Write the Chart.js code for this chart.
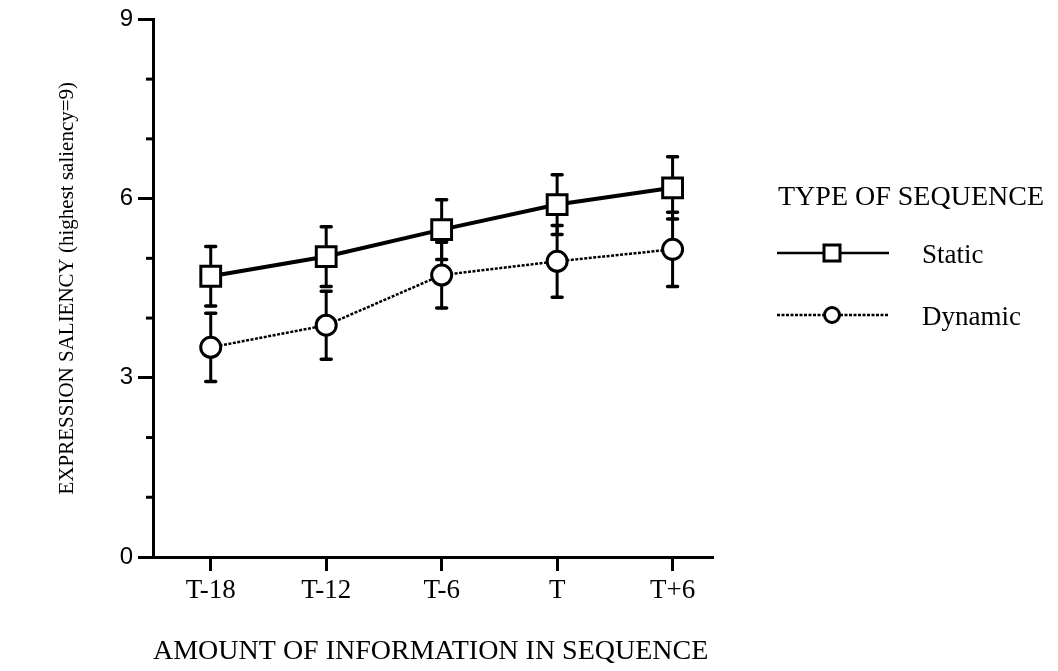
<!DOCTYPE html>
<html>
<head>
<meta charset="utf-8">
<script src="https://cdn.jsdelivr.net/npm/chart.js@4.4.1/dist/chart.umd.min.js"></script>
<style>
  html, body { margin: 0; padding: 0; background: #fff; }
  #wrap { width: 1058px; height: 671px; position: relative; }
</style>
</head>
<body>
<div id="wrap"><canvas id="c" width="1058" height="671"></canvas></div>
<script>
// Saliency ratings by amount of information shown in the sequence
const categories   = ['T-18', 'T-12', 'T-6', 'T', 'T+6'];
const staticMeans  = [4.70, 5.03, 5.48, 5.90, 6.18];
const staticErr    = [0.50, 0.50, 0.50, 0.50, 0.52];
const dynamicMeans = [3.51, 3.88, 4.72, 4.95, 5.15];
const dynamicErr   = [0.57, 0.57, 0.55, 0.60, 0.62];
const yMajorTicks  = [0, 3, 6, 9];
const yMinorTicks  = [1, 2, 4, 5, 7, 8];
const seriesNames  = ['Static', 'Dynamic'];
const legendTitle  = 'TYPE OF SEQUENCE';
const xTitle = 'AMOUNT OF INFORMATION IN SEQUENCE';
const yTitle = 'EXPRESSION SALIENCY (highest saliency=9)';

const SERIF = '"Liberation Serif", "Times New Roman", serif';
const SANS = '"Liberation Sans", Arial, sans-serif';
const errors = [staticErr, dynamicErr];

// Vertical error bars with caps, drawn beneath the markers
const errorBarPlugin = {
  id: 'errorBars',
  beforeDatasetsDraw(chart) {
    const ctx = chart.ctx;
    const y = chart.scales.y;
    ctx.save();
    ctx.strokeStyle = '#000';
    ctx.lineCap = 'round';
    chart.data.datasets.forEach((ds, i) => {
      const meta = chart.getDatasetMeta(i);
      meta.data.forEach((pt, j) => {
        const v = ds.data[j].y;
        const e = errors[i][j];
        const top = y.getPixelForValue(v + e);
        const bot = y.getPixelForValue(v - e);
        ctx.lineWidth = 3;
        ctx.beginPath();
        ctx.moveTo(pt.x, top);
        ctx.lineTo(pt.x, bot);
        ctx.stroke();
        ctx.lineWidth = 3.5;
        ctx.beginPath();
        ctx.moveTo(pt.x - 5, top); ctx.lineTo(pt.x + 5, top);
        ctx.moveTo(pt.x - 5, bot); ctx.lineTo(pt.x + 5, bot);
        ctx.stroke();
      });
    });
    ctx.restore();
  }
};

// Short minor ticks on the value axis
const minorTickPlugin = {
  id: 'minorTicks',
  afterDraw(chart) {
    const ctx = chart.ctx;
    const y = chart.scales.y;
    const left = chart.chartArea.left;
    ctx.save();
    ctx.strokeStyle = '#000';
    ctx.lineWidth = 3;
    yMinorTicks.forEach(v => {
      const py = y.getPixelForValue(v);
      ctx.beginPath();
      ctx.moveTo(left - 7, py);
      ctx.lineTo(left, py);
      ctx.stroke();
    });
    ctx.restore();
  }
};

// Legend on the right: title, then line samples with the series markers
const legendPlugin = {
  id: 'sideLegend',
  afterDraw(chart) {
    const ctx = chart.ctx;
    ctx.save();
    ctx.fillStyle = '#000';
    ctx.textBaseline = 'middle';
    ctx.textAlign = 'left';
    ctx.font = '28px ' + SERIF;
    ctx.fillText(legendTitle, 778, 198);

    const x0 = 777, x1 = 889, xm = 832;
    chart.data.datasets.forEach((ds, i) => {
      const ly = i === 0 ? 253 : 315;
      ctx.strokeStyle = '#000';
      ctx.lineWidth = 2.5;
      ctx.setLineDash(i === 0 ? [] : [3, 1.5]);
      ctx.beginPath();
      ctx.moveTo(x0, ly); ctx.lineTo(x1, ly);
      ctx.stroke();
      ctx.setLineDash([]);
      ctx.fillStyle = '#fff';
      ctx.lineWidth = 3;
      ctx.beginPath();
      if (i === 0) {
        ctx.rect(xm - 8, ly - 8, 16, 16);
      } else {
        ctx.arc(xm, ly, 7.5, 0, Math.PI * 2);
      }
      ctx.fill();
      ctx.stroke();
      ctx.fillStyle = '#000';
      ctx.font = '27px ' + SERIF;
      ctx.fillText(seriesNames[i], 922, ly + 3);
    });
    ctx.restore();
  }
};

const toPoints = arr => arr.map((v, i) => ({ x: i, y: v }));

new Chart(document.getElementById('c'), {
  type: 'line',
  data: {
    datasets: [
      {
        label: seriesNames[0],
        data: toPoints(staticMeans),
        borderColor: '#000',
        borderWidth: 4,
        pointStyle: 'rect',
        pointRadius: 14,
        pointBorderWidth: 3,
        pointBackgroundColor: '#fff',
        pointBorderColor: '#000',
        tension: 0
      },
      {
        label: seriesNames[1],
        data: toPoints(dynamicMeans),
        borderColor: '#000',
        borderWidth: 2.5,
        borderDash: [3, 1.5],
        pointStyle: 'circle',
        pointRadius: 10,
        pointBorderWidth: 3,
        pointBackgroundColor: '#fff',
        pointBorderColor: '#000',
        tension: 0
      }
    ]
  },
  options: {
    responsive: false,
    animation: false,
    devicePixelRatio: 1,
    layout: { padding: { top: 18, right: 345, left: 0, bottom: 0 } },
    plugins: {
      legend: { display: false },
      tooltip: { enabled: false }
    },
    scales: {
      x: {
        type: 'linear',
        min: -0.5,
        max: 4.35,
        afterBuildTicks: s => { s.ticks = categories.map((c, i) => ({ value: i })); },
        afterFit: s => { s.height = 114; },
        ticks: {
          color: '#000',
          font: { family: SERIF, size: 27 },
          padding: 4,
          maxRotation: 0,
          autoSkip: false,
          callback: v => categories[v]
        },
        grid: {
          drawOnChartArea: false,
          tickLength: 14,
          tickWidth: 3,
          tickColor: '#000'
        },
        border: { display: true, width: 3, color: '#000' },
        title: {
          display: true,
          text: xTitle,
          color: '#000',
          align: 'start',
          font: { family: SERIF, size: 28 },
          padding: { top: 0, bottom: 3 }
        }
      },
      y: {
        type: 'linear',
        min: 0,
        max: 9,
        afterBuildTicks: s => { s.ticks = yMajorTicks.map(v => ({ value: v })); },
        afterFit: s => { s.width = 153; },
        ticks: {
          color: '#000',
          font: { family: SANS, size: 24 },
          padding: 5
        },
        grid: {
          drawOnChartArea: false,
          tickLength: 15,
          tickWidth: 3,
          tickColor: '#000'
        },
        border: { display: true, width: 3, color: '#000' },
        title: {
          display: true,
          text: yTitle,
          color: '#000',
          font: { family: SERIF, size: 21 },
          padding: { top: 55, bottom: 0 }
        }
      }
    }
  },
  plugins: [errorBarPlugin, minorTickPlugin, legendPlugin]
});
</script>
</body>
</html>
